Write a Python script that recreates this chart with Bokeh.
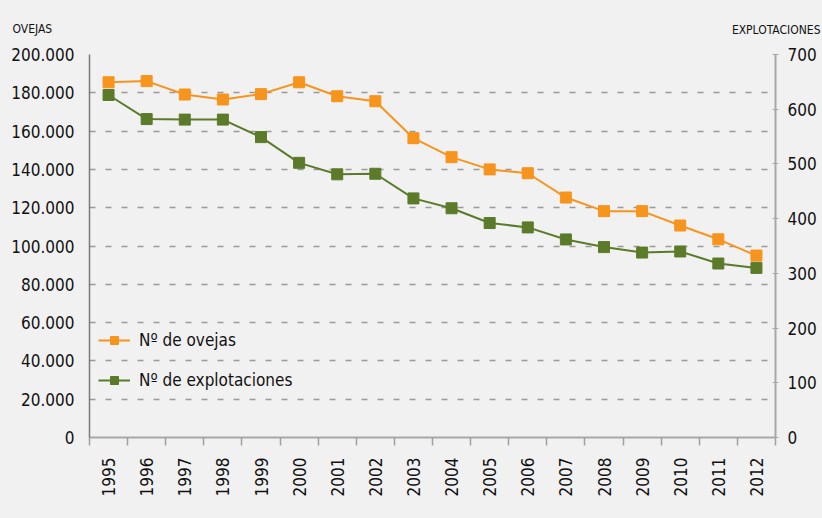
import math
from bokeh.plotting import figure
from bokeh.models import (Range1d, LinearAxis, FixedTicker, CustomJSTickFormatter,
                          Title, Legend, LegendItem, ColumnDataSource)
from bokeh.embed import file_html
from bokeh.resources import INLINE

years = list(range(1995, 2013))
ovejas = [185500, 186100, 179100, 176500, 179300, 185500, 178200, 175600, 156300,
          146400, 140000, 138000, 125300, 118200, 118200, 110700, 103500, 95000]
explotaciones = [626, 582, 581, 581, 549, 502, 481, 482, 437, 419, 392, 384, 362,
                 348, 338, 340, 318, 310]
left_ticks = list(range(0, 200001, 20000))
right_ticks = list(range(0, 701, 100))

FONT = "DejaVu Sans Condensed"
ORANGE = "#F7941D"
GREEN = "#5B7B2A"
BG = "#F1F1F1"

src = ColumnDataSource(dict(year=years, ovejas=ovejas, expl=explotaciones))

p = figure(width=822, height=518, output_backend="svg", toolbar_location=None,
           x_range=Range1d(years[0] - 0.5, years[-1] + 0.5),
           y_range=Range1d(0, 200000),
           min_border_left=89, min_border_right=47, min_border_top=54,
           min_border_bottom=81,
           background_fill_color=BG, border_fill_color=BG, outline_line_color=None)
p.extra_y_ranges = {"expl": Range1d(0, 700)}

# grid
p.xgrid.visible = False
p.ygrid.ticker = FixedTicker(ticks=left_ticks[1:])
p.ygrid.grid_line_color = "#9A9A9A"
p.ygrid.grid_line_width = 1.5
p.ygrid.grid_line_dash = "6 10"

# bottom axis
xa = p.xaxis[0]
xa.ticker = FixedTicker(ticks=years, minor_ticks=[y - 0.5 for y in years] + [years[-1] + 0.5])
xa.major_tick_out = 0
xa.major_tick_in = 0
xa.minor_tick_out = 8
xa.minor_tick_in = 0
xa.minor_tick_line_color = "#A0A0A0"
xa.minor_tick_line_width = 1.5
xa.axis_line_color = "#A8A8A8"
xa.axis_line_width = 2
xa.major_label_orientation = math.pi / 2
xa.major_label_standoff = 12
xa.major_label_text_font = FONT
xa.major_label_text_font_size = "17px"
xa.major_label_text_color = "#111111"
xa.formatter = CustomJSTickFormatter(code="return String(tick);")

# left axis
ya = p.yaxis[0]
ya.ticker = FixedTicker(ticks=left_ticks)
ya.formatter = CustomJSTickFormatter(
    code="return tick == 0 ? '0' : (tick/1000).toFixed(0) + '.000';")
ya.major_tick_out = 0
ya.major_tick_in = 0
ya.minor_tick_out = 0
ya.minor_tick_in = 0
ya.axis_line_color = "#7A7A7A"
ya.axis_line_width = 1.5
ya.major_label_standoff = 15
ya.major_label_text_font = FONT
ya.major_label_text_font_size = "17px"
ya.major_label_text_color = "#111111"

# right axis
ra = LinearAxis(y_range_name="expl", ticker=FixedTicker(ticks=right_ticks))
ra.major_tick_out = 3
ra.major_tick_in = 3
ra.minor_tick_out = 0
ra.minor_tick_in = 0
ra.major_tick_line_color = "#A8A8A8"
ra.axis_line_color = "#A8A8A8"
ra.axis_line_width = 2
ra.major_label_standoff = 9
ra.major_label_text_font = FONT
ra.major_label_text_font_size = "17px"
ra.major_label_text_color = "#111111"
p.add_layout(ra, "right")

# series
l1 = p.line("year", "ovejas", source=src, line_color=ORANGE, line_width=2)
m1 = p.scatter("year", "ovejas", source=src, marker="square", size=11,
               fill_color=ORANGE, line_color=ORANGE)
l2 = p.line("year", "expl", source=src, y_range_name="expl", line_color=GREEN, line_width=2)
m2 = p.scatter("year", "expl", source=src, y_range_name="expl", marker="square", size=11,
               fill_color=GREEN, line_color=GREEN)

legend = Legend(items=[LegendItem(label="Nº de ovejas", renderers=[l1, m1]),
                       LegendItem(label="Nº de explotaciones", renderers=[l2, m2])],
                location=(9, 47), orientation="vertical",
                background_fill_alpha=0, border_line_color=None,
                glyph_width=32, glyph_height=20, label_height=20, spacing=20,
                padding=5, label_standoff=9,
                label_text_font=FONT, label_text_font_size="17px",
                label_text_color="#111111")
p.add_layout(legend, "center")

# axis captions as titles above the frame
t1 = Title(text="OVEJAS", align="left", offset=-77, standoff=38,
           text_font=FONT, text_font_size="12px", text_font_style="normal",
           text_color="#111111")
t2 = Title(text="EXPLOTACIONES", align="right", offset=-45, standoff=-73,
           text_font=FONT, text_font_size="12px", text_font_style="normal",
           text_color="#111111")
p.add_layout(t1, "above")
p.add_layout(t2, "above")

html = file_html(p, INLINE)
html = html.replace("<head>", "<head><style>html,body{background:#F1F1F1;}</style>", 1)
open("out.html", "w").write(html)
